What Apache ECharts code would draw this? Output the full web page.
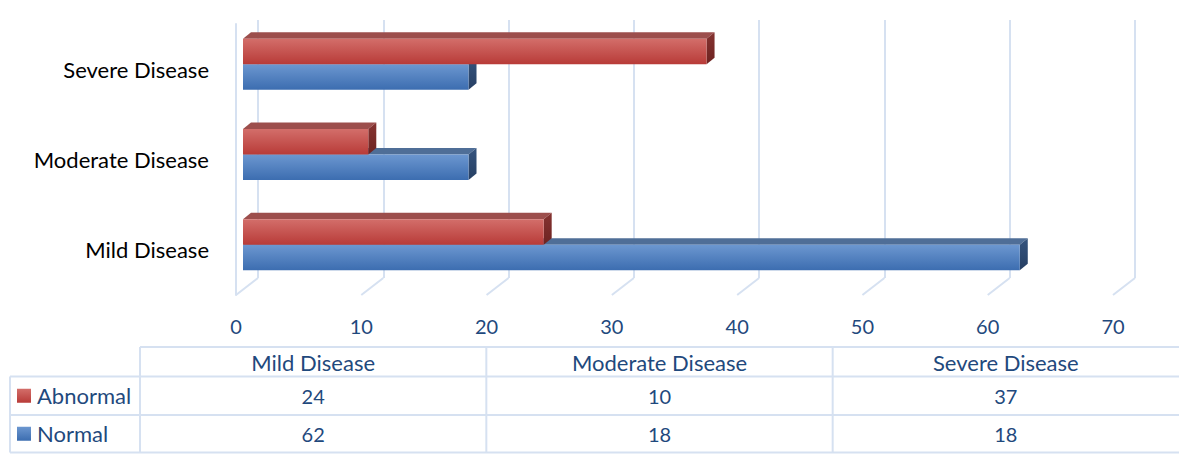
<!DOCTYPE html>
<html>
<head>
<meta charset="utf-8">
<script src="https://cdn.jsdelivr.net/npm/echarts@6/dist/echarts.min.js"></script>
<style>
html,body{margin:0;padding:0;background:#fff;}
#chart{width:1179px;height:454px;}
</style>
</head>
<body>
<div id="chart"></div>
<script>
var categories = ['Mild Disease', 'Moderate Disease', 'Severe Disease'];
var seriesNames = ['Abnormal', 'Normal'];
var abnormal = [24, 10, 37];
var normal = [62, 18, 18];
var xTicks = [0, 10, 20, 30, 40, 50, 60, 70];

var FONT = 'Lato, "Open Sans", sans-serif';
var TXT = '#1F497D';
var GRIDC = '#D6E1F1';
var DEPTH = [8, -6.5];       // bar depth vector
var SHIFT = [7, -5];         // bar front plane offset from front floor edge
var FLOOR = [22, -17];       // front floor edge to back wall

var palette = {
  Abnormal: {front: ['#D36E6A', '#B83B38'], top: '#9C4E4C', side: ['#853331', '#6E2321']},
  Normal:   {front: ['#6C97D0', '#3C6DB0'], top: '#4F6E97', side: ['#35547E', '#263F63']}
};

function barRenderer(name, upper) {
  var pal = palette[name];
  return function (params, api) {
    var v = api.value(0), c = api.value(1);
    var p0 = api.coord([0, c]);
    var p1 = api.coord([v, c]);
    var band = api.size([0, 1])[1];
    var h = band * 0.2825;
    var x0 = p0[0] + SHIFT[0], x1 = p1[0] + SHIFT[0];
    var yc = p0[1] + SHIFT[1];
    var yt = upper ? yc - h : yc;
    var yb = upper ? yc : yc + h;
    var dx = DEPTH[0], dy = DEPTH[1];
    return {
      type: 'group',
      children: [
        {type: 'polygon', shape: {points: [[x0, yt], [x1, yt], [x1 + dx, yt + dy], [x0 + dx, yt + dy]]},
          style: {fill: pal.top}},
        {type: 'polygon', shape: {points: [[x1, yt], [x1, yb], [x1 + dx, yb + dy], [x1 + dx, yt + dy]]},
          style: {fill: new echarts.graphic.LinearGradient(0, 0, 0, 1, [{offset: 0, color: pal.side[0]}, {offset: 1, color: pal.side[1]}])}},
        {type: 'rect', shape: {x: x0, y: yt, width: x1 - x0, height: yb - yt},
          style: {fill: new echarts.graphic.LinearGradient(0, 0, 0, 1, [{offset: 0, color: pal.front[0]}, {offset: 1, color: pal.front[1]}])}}
      ]
    };
  };
}

function toData(arr) {
  return arr.map(function (v, i) { return [v, i]; });
}

// table geometry
var tblLeft = 10, tblLabelRight = 140, tblRight = 1179;
var rowY = [347, 376.5, 415, 452.5];
var colW = (tblRight - tblLabelRight) / categories.length;
var graphics = [];
function hline(x1, x2, y) {
  graphics.push({type: 'line', shape: {x1: x1, y1: y, x2: x2, y2: y}, style: {stroke: GRIDC, lineWidth: 2}, silent: true});
}
function vline(x, y1, y2) {
  graphics.push({type: 'line', shape: {x1: x, y1: y1, x2: x, y2: y2}, style: {stroke: GRIDC, lineWidth: 2}, silent: true});
}
hline(tblLabelRight, tblRight, rowY[0]);
hline(tblLeft, tblRight, rowY[1]);
hline(tblLeft, tblRight, rowY[2]);
hline(tblLeft, tblRight, rowY[3]);
vline(tblLeft, rowY[1], rowY[3]);
for (var k = 0; k < categories.length; k++) {
  vline(tblLabelRight + k * colW, rowY[0], rowY[3]);
}
categories.forEach(function (cat, i) {
  graphics.push({type: 'text', x: tblLabelRight + (i + 0.5) * colW, y: (rowY[0] + rowY[1]) / 2 + 1,
    style: {text: cat, fill: TXT, font: '22px ' + FONT, textAlign: 'center', textVerticalAlign: 'middle'}});
});
var rows = [abnormal, normal];
seriesNames.forEach(function (name, r) {
  var yc = (rowY[r + 1] + rowY[r + 2]) / 2;
  graphics.push({type: 'rect', shape: {x: 17, y: yc - 7, width: 14, height: 14},
    style: {fill: new echarts.graphic.LinearGradient(0, 0, 0, 1, [{offset: 0, color: palette[name].front[0]}, {offset: 1, color: palette[name].front[1]}])}});
  graphics.push({type: 'text', x: 37, y: yc, style: {text: name, fill: TXT, font: '22px ' + FONT, textAlign: 'left', textVerticalAlign: 'middle'}});
  rows[r].forEach(function (v, i) {
    graphics.push({type: 'text', x: tblLabelRight + (i + 0.5) * colW, y: yc,
      style: {text: String(v), fill: TXT, font: '20px ' + FONT, textAlign: 'center', textVerticalAlign: 'middle'}});
  });
});

var chart = echarts.init(document.getElementById('chart'), null, {renderer: 'svg'});
chart.setOption({
  animation: false,
  backgroundColor: '#fff',
  grid: [
    {left: 236, top: 24, width: 877, height: 271},
    {left: 258, top: 20, width: 877, height: 258}
  ],
  xAxis: [
    {gridIndex: 0, type: 'value', min: 0, max: 70, interval: 10,
      axisLine: {show: false}, axisTick: {show: false}, splitLine: {show: false},
      axisLabel: {color: TXT, fontSize: 20, fontFamily: FONT, margin: 21}},
    {gridIndex: 1, type: 'value', min: 0, max: 70, interval: 10,
      axisLine: {show: false}, axisTick: {show: false}, axisLabel: {show: false},
      splitLine: {show: true, lineStyle: {color: GRIDC, width: 2}}}
  ],
  yAxis: [
    {gridIndex: 0, type: 'category', data: categories,
      axisLine: {show: true, lineStyle: {color: GRIDC, width: 2}}, axisTick: {show: false},
      axisLabel: {color: '#000', fontSize: 22, fontFamily: FONT, margin: 27}},
    {gridIndex: 1, type: 'category', data: categories, show: false}
  ],
  graphic: graphics,
  series: [
    {type: 'custom', name: 'floor', xAxisIndex: 0, yAxisIndex: 0, silent: true,
      data: xTicks.map(function (t) { return [t, 0]; }),
      renderItem: function (params, api) {
        var p = api.coord([api.value(0), 0]);
        var bottom = params.coordSys.y + params.coordSys.height;
        return {type: 'line', shape: {x1: p[0], y1: bottom, x2: p[0] + FLOOR[0], y2: bottom + FLOOR[1]},
          style: {stroke: GRIDC, lineWidth: 2}};
      }},
    {type: 'custom', name: seriesNames[1], xAxisIndex: 0, yAxisIndex: 0,
      data: toData(normal), renderItem: barRenderer('Normal', false)},
    {type: 'custom', name: seriesNames[0], xAxisIndex: 0, yAxisIndex: 0,
      data: toData(abnormal), renderItem: barRenderer('Abnormal', true)}
  ]
});
</script>
</body>
</html>
